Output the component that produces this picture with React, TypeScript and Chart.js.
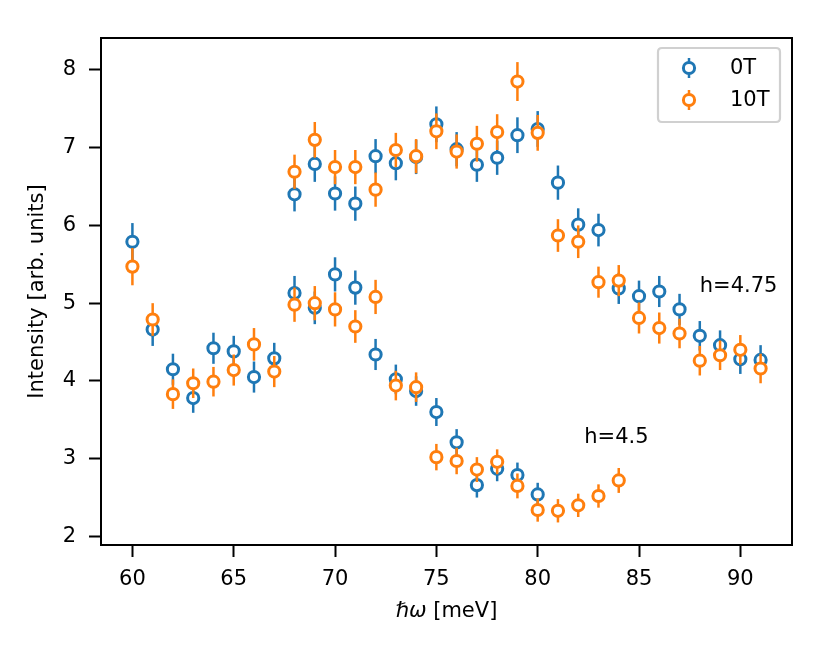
import React, { useEffect, useRef } from "react";
import { Chart, registerables } from "chart.js";

Chart.register(...registerables);

// ---- data ----
const energyLow0T = [60, 61, 62, 63, 64, 65, 66, 67, 68, 69, 70, 71, 72, 73, 74, 75, 76, 77, 78, 79, 80];
const intensityLow0T = [5.79, 4.66, 4.15, 3.78, 4.42, 4.38, 4.05, 4.29, 5.13, 4.94, 5.37, 5.2, 4.34, 4.02, 3.87, 3.6, 3.21, 2.66, 2.87, 2.79, 2.54];
const errorLow0T = [0.24, 0.21, 0.2, 0.19, 0.2, 0.2, 0.2, 0.2, 0.22, 0.21, 0.22, 0.22, 0.2, 0.19, 0.19, 0.18, 0.17, 0.16, 0.16, 0.16, 0.15];

const energyLow10T = [60, 61, 62, 63, 64, 65, 66, 67, 68, 69, 70, 71, 72, 73, 74, 75, 76, 77, 78, 79, 80, 81, 82, 83, 84];
const intensityLow10T = [5.47, 4.79, 3.83, 3.97, 3.99, 4.14, 4.47, 4.12, 4.98, 5.0, 4.92, 4.7, 5.08, 3.94, 3.92, 3.02, 2.97, 2.86, 2.96, 2.65, 2.34, 2.33, 2.4, 2.52, 2.72];
const errorLow10T = [0.24, 0.21, 0.19, 0.19, 0.19, 0.2, 0.21, 0.2, 0.22, 0.22, 0.22, 0.21, 0.22, 0.19, 0.19, 0.17, 0.17, 0.16, 0.16, 0.16, 0.15, 0.15, 0.15, 0.15, 0.16];

const energyHigh = [68, 69, 70, 71, 72, 73, 74, 75, 76, 77, 78, 79, 80, 81, 82, 83, 84, 85, 86, 87, 88, 89, 90, 91];
const intensityHigh0T = [6.4, 6.79, 6.41, 6.28, 6.89, 6.8, 6.88, 7.3, 6.98, 6.78, 6.87, 7.16, 7.24, 6.55, 6.01, 5.94, 5.19, 5.09, 5.15, 4.92, 4.58, 4.46, 4.28, 4.27];
const errorHigh0T = [0.22, 0.23, 0.22, 0.22, 0.22, 0.22, 0.22, 0.23, 0.22, 0.22, 0.22, 0.23, 0.23, 0.22, 0.21, 0.21, 0.2, 0.2, 0.2, 0.2, 0.19, 0.19, 0.19, 0.19];
const intensityHigh10T = [6.69, 7.1, 6.75, 6.75, 6.46, 6.97, 6.89, 7.21, 6.95, 7.05, 7.2, 7.85, 7.19, 5.87, 5.79, 5.27, 5.29, 4.81, 4.68, 4.61, 4.26, 4.33, 4.4, 4.16];
const errorHigh10T = [0.22, 0.23, 0.22, 0.22, 0.22, 0.22, 0.22, 0.23, 0.22, 0.23, 0.23, 0.25, 0.23, 0.21, 0.21, 0.2, 0.2, 0.2, 0.2, 0.19, 0.19, 0.19, 0.19, 0.19];

const seriesLabels = ["0T", "10T"];
const seriesColors = ["#1f77b4", "#ff7f0e"];

const xTickValues = [60, 65, 70, 75, 80, 85, 90];
const yTickValues = [2, 3, 4, 5, 6, 7, 8];

const annotations = [
  { x: 88, y: 5.15, text: "h=4.75" },
  { x: 82.3, y: 3.2, text: "h=4.5" },
];

const FONT = "'DejaVu Sans', 'Liberation Sans', sans-serif";
const FS = 21;

function toPoints(xs: number[], ys: number[]) {
  return xs.map((x, i) => ({ x, y: ys[i] }));
}

const errorBarPlugin = {
  id: "errorBars",
  beforeDatasetDraw(chart: any, args: any) {
    const ds = chart.data.datasets[args.index];
    const errs: number[] = ds.errors;
    if (!errs) return;
    const yScale = chart.scales.y;
    const ctx = chart.ctx;
    const area = chart.chartArea;
    ctx.save();
    ctx.beginPath();
    ctx.rect(area.left, area.top, area.right - area.left, area.bottom - area.top);
    ctx.clip();
    ctx.strokeStyle = ds.borderColor;
    ctx.lineWidth = 2.5;
    ctx.lineCap = "butt";
    args.meta.data.forEach((el: any, i: number) => {
      const v = ds.data[i].y;
      const e = errs[i];
      const y1 = yScale.getPixelForValue(v - e);
      const y2 = yScale.getPixelForValue(v + e);
      ctx.beginPath();
      ctx.moveTo(el.x, y1);
      ctx.lineTo(el.x, y2);
      ctx.stroke();
    });
    ctx.restore();
  },
};

const decorPlugin = {
  id: "decor",
  afterDraw(chart: any) {
    const ctx = chart.ctx;
    const a = chart.chartArea;
    const xs = chart.scales.x;
    const ys = chart.scales.y;
    ctx.save();
    // frame
    ctx.strokeStyle = "#000";
    ctx.lineWidth = 2;
    ctx.strokeRect(a.left, a.top, a.right - a.left, a.bottom - a.top);

    // annotations
    ctx.fillStyle = "#000";
    ctx.font = `${FS}px ${FONT}`;
    ctx.textAlign = "left";
    ctx.textBaseline = "alphabetic";
    annotations.forEach((t) => {
      ctx.fillText(t.text, xs.getPixelForValue(t.x), ys.getPixelForValue(t.y));
    });

    // x axis title with italic hbar omega
    const part1 = "ℏω";
    const part2 = " [meV]";
    ctx.font = `italic ${FS}px ${FONT}`;
    const w1 = ctx.measureText(part1).width;
    ctx.font = `${FS}px ${FONT}`;
    const w2 = ctx.measureText(part2).width;
    const cx = (a.left + a.right) / 2;
    const ty = 612;
    const sx = cx - (w1 + w2) / 2;
    ctx.textBaseline = "middle";
    ctx.font = `italic ${FS}px ${FONT}`;
    ctx.fillText(part1, sx, ty);
    ctx.font = `${FS}px ${FONT}`;
    ctx.fillText(part2, sx + w1, ty);

    // legend
    const bw = 122;
    const bh = 74;
    const bx = a.right - 12 - bw;
    const by = a.top + 10;
    const r = 4;
    ctx.beginPath();
    ctx.moveTo(bx + r, by);
    ctx.lineTo(bx + bw - r, by);
    ctx.quadraticCurveTo(bx + bw, by, bx + bw, by + r);
    ctx.lineTo(bx + bw, by + bh - r);
    ctx.quadraticCurveTo(bx + bw, by + bh, bx + bw - r, by + bh);
    ctx.lineTo(bx + r, by + bh);
    ctx.quadraticCurveTo(bx, by + bh, bx, by + bh - r);
    ctx.lineTo(bx, by + r);
    ctx.quadraticCurveTo(bx, by, bx + r, by);
    ctx.closePath();
    ctx.fillStyle = "rgba(255,255,255,0.8)";
    ctx.fill();
    ctx.strokeStyle = "#d0d0d0";
    ctx.lineWidth = 2.2;
    ctx.stroke();

    seriesLabels.forEach((lab, i) => {
      const my = by + 20 + i * 32;
      const mx = bx + 31;
      ctx.strokeStyle = seriesColors[i];
      ctx.lineWidth = 2.5;
      ctx.beginPath();
      ctx.moveTo(mx, my - 10);
      ctx.lineTo(mx, my + 10);
      ctx.stroke();
      ctx.beginPath();
      ctx.arc(mx, my, 5.6, 0, Math.PI * 2);
      ctx.fillStyle = "#fff";
      ctx.fill();
      ctx.lineWidth = 3;
      ctx.stroke();
      ctx.fillStyle = "#000";
      ctx.font = `${FS}px ${FONT}`;
      ctx.textAlign = "left";
      ctx.textBaseline = "middle";
      ctx.fillText(lab, bx + 72, my + 1);
    });
    ctx.restore();
  },
};

function makeDataset(label: string, color: string, xs: number[], ys: number[], errs: number[], order: number) {
  return {
    label,
    data: toPoints(xs, ys),
    errors: errs,
    borderColor: color,
    backgroundColor: "#ffffff",
    pointStyle: "circle",
    pointRadius: 5.6,
    pointHoverRadius: 5.6,
    pointBorderWidth: 3,
    showLine: false,
    order,
  };
}

export default function App() {
  const canvasRef = useRef<HTMLCanvasElement | null>(null);

  useEffect(() => {
    if (!canvasRef.current) return;
    const chart = new Chart(canvasRef.current, {
      type: "scatter",
      data: {
        datasets: [
          makeDataset(seriesLabels[0], seriesColors[0], energyLow0T, intensityLow0T, errorLow0T, 4),
          makeDataset(seriesLabels[1], seriesColors[1], energyLow10T, intensityLow10T, errorLow10T, 3),
          makeDataset(seriesLabels[0], seriesColors[0], energyHigh, intensityHigh0T, errorHigh0T, 2),
          makeDataset(seriesLabels[1], seriesColors[1], energyHigh, intensityHigh10T, errorHigh10T, 1),
        ] as any,
      },
      options: {
        animation: false,
        responsive: false,
        devicePixelRatio: 1,
        layout: { padding: { top: 38, right: 38, left: 0, bottom: 0 } },
        plugins: {
          legend: { display: false },
          tooltip: { enabled: false },
        },
        scales: {
          x: {
            type: "linear",
            min: 58.45,
            max: 92.55,
            afterFit: (s: any) => {
              s.height = 111;
            },
            afterBuildTicks: (s: any) => {
              s.ticks = xTickValues.map((v) => ({ value: v }));
            },
            grid: {
              display: true,
              drawOnChartArea: false,
              drawTicks: true,
              tickLength: 12,
              tickWidth: 2,
              tickColor: "#000",
            },
            border: { display: true, color: "#000", width: 2 },
            ticks: {
              color: "#000",
              font: { family: FONT, size: FS },
              padding: 10,
              maxRotation: 0,
            },
            title: { display: false },
          },
          y: {
            type: "linear",
            min: 1.89,
            max: 8.41,
            afterFit: (s: any) => {
              s.width = 101;
            },
            afterBuildTicks: (s: any) => {
              s.ticks = yTickValues.map((v) => ({ value: v }));
            },
            grid: {
              display: true,
              drawOnChartArea: false,
              drawTicks: true,
              tickLength: 12,
              tickWidth: 2,
              tickColor: "#000",
            },
            border: { display: true, color: "#000", width: 2 },
            ticks: {
              color: "#000",
              font: { family: FONT, size: FS },
              padding: 13,
            },
            title: {
              display: true,
              text: "Intensity [arb. units]",
              color: "#000",
              font: { family: FONT, size: FS },
              padding: { top: 25, bottom: 0 },
            },
          },
        },
      },
      plugins: [errorBarPlugin, decorPlugin],
    } as any);
    return () => chart.destroy();
  }, []);

  return (
    <div style={{ position: "absolute", left: 0, top: 0, width: 830, height: 656, background: "#fff" }}>
      <canvas ref={canvasRef} width={830} height={656} style={{ display: "block" }} />
    </div>
  );
}
